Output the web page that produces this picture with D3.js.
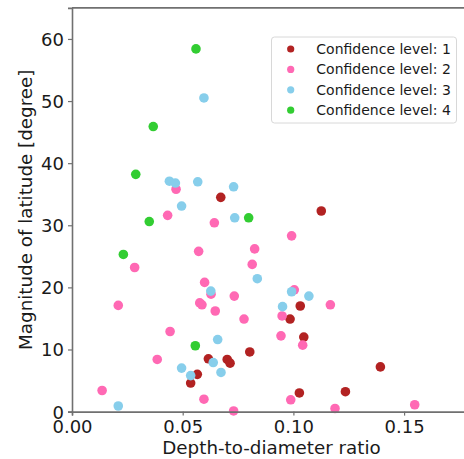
<!DOCTYPE html>
<html>
<head>
<meta charset="utf-8">
<script src="https://cdn.jsdelivr.net/npm/d3@7"></script>
<style>
  body { margin: 0; background: #fff; }
  text { font-family: "DejaVu Sans", sans-serif; fill: #1a1a1a; }
</style>
</head>
<body>
<div id="chart"></div>
<script>
// confidence levels and colours
var levels = ["Confidence level: 1", "Confidence level: 2", "Confidence level: 3", "Confidence level: 4"];
var colors = ["#b22222", "#ff69b4", "#87ceeb", "#32cd32"];

// level 1
var x1 = [0.0672, 0.1126, 0.0616, 0.0701, 0.0714, 0.0566, 0.0536, 0.1031, 0.0985, 0.1047, 0.0803, 0.1393, 0.1027, 0.1235];
var y1 = [34.5, 32.3, 8.5, 8.4, 7.8, 6.0, 4.6, 17.0, 14.9, 12.0, 9.6, 7.2, 3.0, 3.2];
// level 2
var x2 = [0.0470, 0.0432, 0.0643, 0.0283, 0.0572, 0.0209, 0.0599, 0.0628, 0.0577, 0.0587, 0.0647, 0.0443, 0.0385, 0.0136, 0.0596,
          0.0992, 0.0825, 0.0814, 0.1004, 0.0733, 0.1167, 0.0949, 0.0777, 0.0944, 0.1042, 0.0988, 0.1548, 0.1188, 0.0730];
var y2 = [35.8, 31.6, 30.4, 23.2, 25.8, 17.1, 20.8, 18.9, 17.5, 17.2, 16.2, 12.9, 8.4, 3.4, 2.0,
          28.3, 26.2, 23.7, 19.6, 18.6, 17.2, 15.4, 14.9, 12.2, 10.7, 1.9, 1.1, 0.5, 0.1];
// level 3
var x3 = [0.0596, 0.0440, 0.0467, 0.0568, 0.0730, 0.0495, 0.0735, 0.0627, 0.0658, 0.0638, 0.0495, 0.0673, 0.0536, 0.0209, 0.0837, 0.0992, 0.1070, 0.0951];
var y3 = [50.5, 37.1, 36.8, 37.0, 36.2, 33.1, 31.2, 19.4, 11.6, 7.9, 7.0, 6.3, 5.8, 0.9, 21.4, 19.3, 18.6, 16.9];
// level 4
var x4 = [0.0560, 0.0367, 0.0288, 0.0349, 0.0798, 0.0232, 0.0557];
var y4 = [58.4, 45.9, 38.2, 30.6, 31.2, 25.3, 10.6];

var xTicks = [0, 0.05, 0.10, 0.15];
var yTicks = [0, 10, 20, 30, 40, 50, 60];

var seriesX = [x1, x2, x3, x4];
var seriesY = [y1, y2, y3, y4];

var W = 464, H = 459;
// careful: "top" is taken by window.top
var mLeft = 72, mTop = 7.9, mRight = 470.5, mBottom = 411.6;
var axisColor = "#707070";

var svg = d3.select("#chart").append("svg")
  .attr("width", W)
  .attr("height", H);

var x = d3.scaleLinear().domain([0, 0.18]).range([mLeft, mRight]);
var y = d3.scaleLinear().domain([0, 65]).range([mBottom, mTop]);

// points, one series after another
seriesX.forEach(function(xs, k) {
  var pts = xs.map(function(v, i) { return {x: v, y: seriesY[k][i]}; });
  svg.append("g").selectAll("circle")
    .data(pts)
    .enter().append("circle")
    .attr("cx", function(d) { return x(d.x); })
    .attr("cy", function(d) { return y(d.y); })
    .attr("r", 4.8)
    .attr("fill", colors[k]);
});

// axes
var xAxis = d3.axisBottom(x).tickValues(xTicks).tickFormat(d3.format(".2f")).tickSize(4);
var yAxis = d3.axisLeft(y).tickValues(yTicks).tickFormat(d3.format("d")).tickSize(4);

var gx = svg.append("g")
  .attr("transform", "translate(0," + mBottom + ")")
  .call(xAxis);
var gy = svg.append("g")
  .attr("transform", "translate(" + mLeft + ",0)")
  .call(yAxis);

[gx, gy].forEach(function(g) {
  g.select(".domain").attr("stroke", axisColor).attr("stroke-width", 1.6);
  g.selectAll(".tick line").attr("stroke", axisColor).attr("stroke-width", 1.2);
  g.selectAll(".tick text")
    .style("font-family", "DejaVu Sans, sans-serif")
    .style("font-size", "18px")
    .attr("fill", "#1a1a1a");
});
gx.selectAll(".tick text").attr("dy", "0.95em").attr("y", 4);
gy.selectAll(".tick text").attr("x", -8).attr("dy", "0.36em");

// top spine
svg.append("line")
  .attr("x1", mLeft).attr("x2", mRight)
  .attr("y1", mTop).attr("y2", mTop)
  .attr("stroke", axisColor)
  .attr("stroke-width", 1.6);

// axis labels
svg.append("text")
  .attr("x", 271.5)
  .attr("y", 454)
  .attr("text-anchor", "middle")
  .style("font-size", "18.3px")
  .text("Depth-to-diameter ratio");

svg.append("text")
  .attr("transform", "rotate(-90)")
  .attr("x", -(mTop + mBottom) / 2)
  .attr("y", 32)
  .attr("text-anchor", "middle")
  .style("font-size", "18.3px")
  .text("Magnitude of latitude [degree]");

// legend
var lg = svg.append("g");
lg.append("rect")
  .attr("x", 271.5).attr("y", 37)
  .attr("width", 185).attr("height", 86)
  .attr("rx", 3)
  .attr("fill", "#fff")
  .attr("stroke", "#d8d8d8")
  .attr("stroke-width", 1);

levels.forEach(function(name, i) {
  var cy = 49 + i * 20.4;
  lg.append("circle")
    .attr("cx", 290.7).attr("cy", cy)
    .attr("r", 3.6)
    .attr("fill", colors[i]);
  lg.append("text")
    .attr("x", 316.3).attr("y", cy)
    .attr("dy", "0.36em")
    .style("font-size", "14px")
    .text(name);
});
</script>
</body>
</html>
